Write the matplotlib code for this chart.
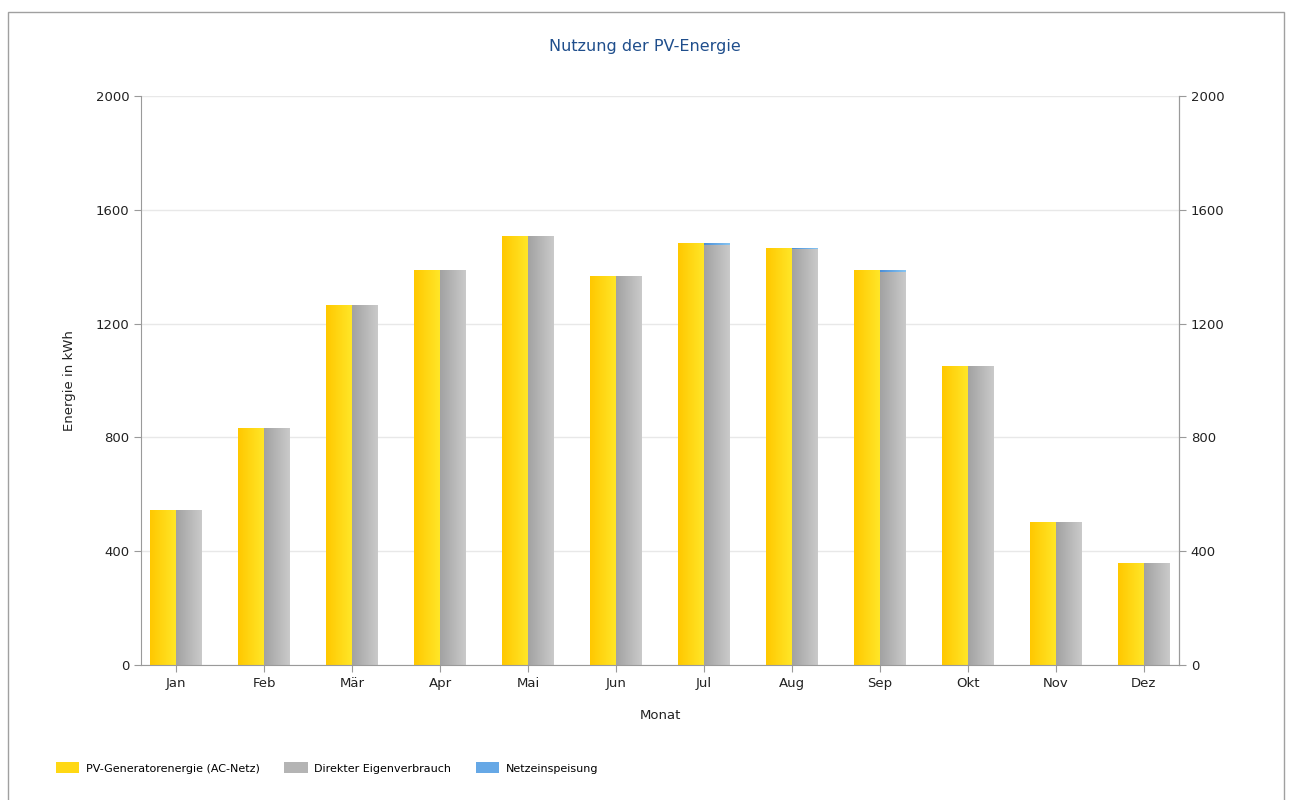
import numpy as np
import matplotlib.pyplot as plt
from matplotlib.patches import Rectangle, Patch
from matplotlib.colors import LinearSegmentedColormap

months = ['Jan', 'Feb', 'Mär', 'Apr', 'Mai', 'Jun', 'Jul', 'Aug', 'Sep', 'Okt', 'Nov', 'Dez']
pv_energy = [545, 833, 1265, 1388, 1508, 1367, 1483, 1466, 1388, 1051, 503, 359]
feed_in = [0, 0, 0, 0, 0, 0, 5, 3, 6, 0, 0, 0]
self_use = [p - f for p, f in zip(pv_energy, feed_in)]
yticks = [0, 400, 800, 1200, 1600, 2000]

plt.rcParams['font.family'] = ['DejaVu Sans']

fig = plt.figure(figsize=(12.9, 8), dpi=100)
ax = fig.add_axes([141 / 1290, 1 - 665 / 800, (1179 - 141) / 1290, (665 - 96) / 800])

x = np.arange(len(months))
w = 0.295

yellow = LinearSegmentedColormap.from_list('y', ['#ffc800', '#ffe628'])
gray = LinearSegmentedColormap.from_list('g', ['#a2a2a2', '#cacaca'])
blue = LinearSegmentedColormap.from_list('b', ['#4a8fd8', '#86c4f2'])
grad = np.linspace(0, 1, 64).reshape(1, -1)


def gradient_bars(bars, cmap):
    for b in bars:
        if b.get_height() <= 0:
            continue
        b.set_facecolor('none')
        x0, y0 = b.get_x(), b.get_y()
        im = ax.imshow(grad, cmap=cmap, aspect='auto', zorder=2,
                       extent=[x0, x0 + b.get_width(), y0, y0 + b.get_height()])
        im.set_clip_path(b)


b1 = ax.bar(x - w / 2, pv_energy, w, edgecolor='none', zorder=2)
b2 = ax.bar(x + w / 2, self_use, w, edgecolor='none', zorder=2)
b3 = ax.bar(x + w / 2, feed_in, w, bottom=self_use, edgecolor='none', zorder=2)
gradient_bars(b1, yellow)
gradient_bars(b2, gray)
gradient_bars(b3, blue)

ax.set_xlim(-0.4, 11.4)
ax.set_ylim(0, 2000)
ax.set_xticks(x)
ax.set_xticklabels(months)
ax.set_yticks(yticks)
ax.grid(axis='y', color='#e8e8e8', linewidth=1, zorder=0)
ax.set_axisbelow(True)

for s in ['left', 'right', 'bottom']:
    ax.spines[s].set_color('#9a9a9a')
ax.spines['top'].set_visible(False)
ax.tick_params(axis='both', colors='#9a9a9a', labelcolor='#222222', labelsize=9.5, length=5)

ax2 = ax.twinx()
ax2.set_ylim(0, 2000)
ax2.set_yticks(yticks)
ax2.spines['top'].set_visible(False)
ax2.spines['right'].set_color('#9a9a9a')
ax2.spines['left'].set_visible(False)
ax2.spines['bottom'].set_visible(False)
ax2.tick_params(axis='y', colors='#9a9a9a', labelcolor='#222222', labelsize=9.5, length=5)

ax.set_ylabel('Energie in kWh', fontsize=9.5, color='#222222', labelpad=14)
ax.set_xlabel('Monat', fontsize=9.5, color='#222222', labelpad=14)

fig.text(0.5, 1 - 47 / 800, 'Nutzung der PV-Energie', ha='center', va='center',
         fontsize=11.5, color='#1f4e8c')

handles = [Patch(facecolor='#ffd814', label='PV-Generatorenergie (AC-Netz)'),
           Patch(facecolor='#b4b4b4', label='Direkter Eigenverbrauch'),
           Patch(facecolor='#66a8e6', label='Netzeinspeisung')]
fig.legend(handles=handles, loc='center left', bbox_to_anchor=(46 / 1290, 1 - 768 / 800),
           ncol=3, frameon=False, fontsize=8, handlelength=2.1, handleheight=1.1,
           columnspacing=2.2, handletextpad=0.6)

fig.patches.append(Rectangle((8 / 1290, -0.01), (1284 - 8) / 1290, 1 - 12 / 800 + 0.01,
                             transform=fig.transFigure, fill=False,
                             edgecolor='#a0a0a0', linewidth=1))

fig.savefig('out.png', dpi=100)
